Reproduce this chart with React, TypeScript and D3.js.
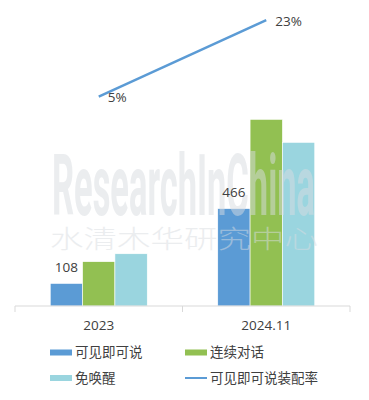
import React from 'react';
import * as d3 from 'd3';

const categories = ['2023', '2024.11'];
const seriesNames = ['可见即可说', '连续对话', '免唤醒'];
const seeSayValues = [108, 466];
const dialogValues = [212, 893];
const wakeFreeValues = [250, 783];
const lineName = '可见即可说装配率';
const rateValues = [0.05, 0.23];
const rateLabels = ['5%', '23%'];
const barLabels = ['108', '466'];

const colors = ['#5b9bd5', '#92c052', '#9ad5df'];
const lineColor = '#5b9bd5';
const textColor = '#404040';
const font = '"Open Sans", "Noto Sans CJK SC", sans-serif';

const App = () => {
  const width = 369;
  const height = 400;
  const baseY = 306;

  const x0 = d3.scaleBand().domain(categories).range([15, 350]).padding(0);
  const groupW = 97;
  const bw = x0.bandwidth();
  const x1 = d3.scaleBand().domain(seriesNames)
    .range([(bw - groupW) / 2, (bw + groupW) / 2]).padding(0);
  const y = d3.scaleLinear().domain([0, 1000]).range([baseY, 97]);
  const y2 = d3.scaleLinear().domain([0, 0.25]).range([118, 11.5]);

  const values = [seeSayValues, dialogValues, wakeFreeValues];
  const cx = (c: string) => (x0(c) as number) + bw / 2;

  const line = d3.line<number>()
    .x((_, i) => cx(categories[i]))
    .y(d => y2(d));

  return (
    <svg width={width} height={height} style={{ position: 'absolute', left: 0, top: 0, background: '#fff' }}>
      {/* bars */}
      {categories.map((c, ci) => (
        <g key={c} transform={`translate(${x0(c)},0)`}>
          {seriesNames.map((s, si) => (
            <rect key={s}
              x={x1(s)} y={y(values[si][ci])}
              width={x1.bandwidth()} height={baseY - y(values[si][ci])}
              fill={colors[si]} stroke="#fff" strokeWidth={0.6} />
          ))}
        </g>
      ))}

      {/* axis */}
      <line x1={15} x2={350} y1={baseY} y2={baseY} stroke="#d9d9d9" strokeWidth={1} />
      {[15, ...categories.map(c => (x0(c) as number) + bw)].map((tx, i) => (
        <line key={i} x1={tx} x2={tx} y1={baseY} y2={baseY + 6} stroke="#d9d9d9" strokeWidth={1} />
      ))}
      {categories.map(c => (
        <text key={c} x={cx(c)} y={325} dy="0.35em" textAnchor="middle"
          fontFamily={font} fontSize={13.5} fill={textColor}>{c}</text>
      ))}

      {/* rate line */}
      <path d={line(rateValues) as string} fill="none" stroke={lineColor} strokeWidth={2.5} />

      {/* watermark */}
      <g opacity={0.5} fill="#d8dce1">
        <text x={52} y={215} textLength={263} lengthAdjust="spacingAndGlyphs"
          fontFamily='"Liberation Sans Narrow", "Roboto", sans-serif' fontWeight="bold" fontSize={86}>ResearchInChina</text>
        <text x={50} y={248} textLength={268} lengthAdjust="spacingAndGlyphs"
          fontFamily='"Noto Sans CJK SC", sans-serif' fontWeight={300} fontSize={25}>水清木华研究中心</text>
      </g>

      {/* labels */}
      {categories.map((c, ci) => (
        <text key={c} x={(x0(c) as number) + (x1(seriesNames[0]) as number) + x1.bandwidth() / 2}
          y={y(seeSayValues[ci]) - 16} dy="0.35em" textAnchor="middle"
          fontFamily={font} fontSize={13.5} fill={textColor}>{barLabels[ci]}</text>
      ))}
      {rateValues.map((v, i) => (
        <text key={i} x={cx(categories[i]) + 9} y={y2(v) + 1} dy="0.35em"
          fontFamily={font} fontSize={13.5} fill={textColor}>{rateLabels[i]}</text>
      ))}

      {/* legend */}
      <g fontFamily={font} fontSize={13.5} fill={textColor}>
        <rect x={50} y={349.5} width={22} height={6} fill={colors[0]} />
        <text x={75} y={352.5} dy="0.35em">{seriesNames[0]}</text>
        <rect x={185} y={349.5} width={22} height={6} fill={colors[1]} />
        <text x={210} y={352.5} dy="0.35em">{seriesNames[1]}</text>
        <rect x={50} y={375} width={22} height={6} fill={colors[2]} />
        <text x={75} y={378} dy="0.35em">{seriesNames[2]}</text>
        <line x1={185} x2={207} y1={378} y2={378} stroke={lineColor} strokeWidth={2} />
        <text x={210} y={378} dy="0.35em">{lineName}</text>
      </g>
    </svg>
  );
};

export default App;
